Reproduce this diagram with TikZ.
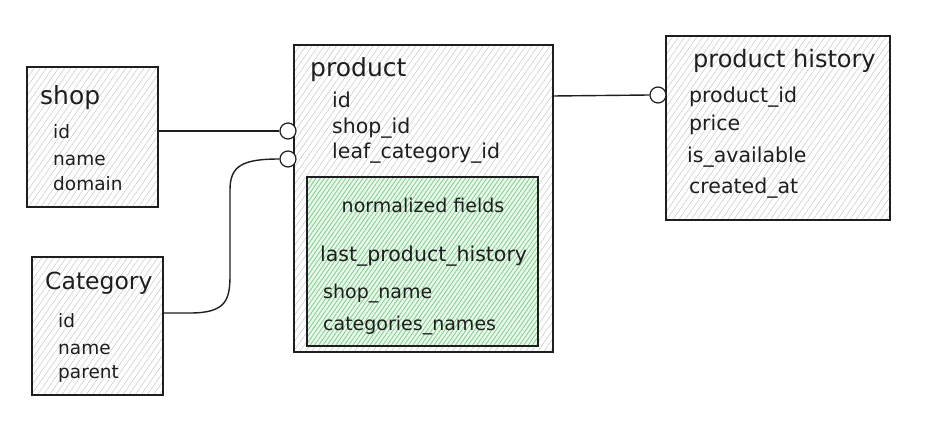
\documentclass[tikz,border=0pt]{standalone}
\usepackage{fontspec}
\setmainfont{DejaVu Sans}
\usetikzlibrary{patterns.meta}
\definecolor{ink}{RGB}{30,30,30}
\definecolor{hatchgray}{RGB}{200,200,200}
\definecolor{greenbg}{RGB}{232,248,234}
\definecolor{greenhatch}{RGB}{130,205,142}
\tikzset{
  table/.style={draw=ink, line width=1.3pt, preaction={fill=white},
    pattern={Lines[angle=55,distance=5pt,line width=0.5pt]}, pattern color=hatchgray,
    inner sep=0pt},
  greenbox/.style={draw=ink, line width=1.3pt, preaction={fill=greenbg},
    pattern={Lines[angle=55,distance=3.5pt,line width=0.8pt]}, pattern color=greenhatch,
    inner sep=0pt},
  ttl/.style={anchor=mid west, inner sep=0pt, text=ink, font=\fontsize{25}{30}\selectfont},
  fld/.style={anchor=mid west, inner sep=0pt, text=ink, font=\fontsize{18.5}{22}\selectfont},
  fldb/.style={fld, font=\fontsize{20.5}{24}\selectfont},
  knob/.style={circle, draw=ink, line width=1.2pt, fill=white, minimum size=16pt, inner sep=0pt},
  link/.style={draw=ink, line width=1.4pt}
}
\begin{document}
\begin{tikzpicture}[x=1pt,y=-1pt]
\useasboundingbox (0,0) rectangle (932,422);
\fill[white] (0,0) rectangle (932,422);

% boxes
\node[table, minimum width=131pt, minimum height=140pt] (shop) at (92.5,137) {};
\node[table, minimum width=259pt, minimum height=307pt] (product) at (423.5,198.5) {};
\node[greenbox, minimum width=231pt, minimum height=169pt] (norm) at (422.5,261.5) {};
\node[table, minimum width=224pt, minimum height=184pt] (hist) at (778,128) {};
\node[table, minimum width=131pt, minimum height=138pt] (cat) at (97.5,326) {};

% shop
\node[ttl] (shopT) at (40,102) {shop};
\node[fld] (shop1) at (53,136) {id};
\node[fld] (shop2) at (53,163) {name};
\node[fld] (shop3) at (53,188) {domain};

% product
\node[ttl] (prodT) at (310,74) {product};
\node[fldb] (prod1) at (332,105) {id};
\node[fldb] (prod2) at (332,131) {shop\_id};
\node[fldb] (prod3) at (332,156) {leaf\_category\_id};

% normalized
\node[fld, anchor=center, font=\fontsize{19}{23}\selectfont] (normT) at (423,205) {normalized fields};
\node[fldb] (norm1) at (320,259) {last\_product\_history};
\node[fld, font=\fontsize{19}{23}\selectfont] (norm2) at (323,296) {shop\_name};
\node[fld, font=\fontsize{19}{23}\selectfont] (norm3) at (323,328) {categories\_names};

% product history
\node[ttl, font=\fontsize{24}{29}\selectfont] (histT) at (693,65) {product history};
\node[fldb] (hist1) at (689,100) {product\_id};
\node[fldb] (hist2) at (689,128) {price};
\node[fldb] (hist3) at (687,160) {is\_available};
\node[fldb] (hist4) at (689,191) {created\_at};

% category
\node[ttl, font=\fontsize{23.5}{28}\selectfont] (catT) at (45,287) {Category};
\node[fld] (cat1) at (58,325) {id};
\node[fld] (cat2) at (58,352) {name};
\node[fld] (cat3) at (58,376) {parent};

% connector endpoints
\node[knob] (k1) at (288,131) {};
\node[knob] (k2) at (288,159) {};
\node[knob] (k3) at (658,95) {};
\coordinate (catout) at (163,313);
\coordinate (prodout) at (553,96);

% connectors
\draw[link] (shop.east |- k1) -- (k1.west);
\draw[link] (catout) -- (190,313) .. controls (226,313) and (230,300) .. (230,275)
  -- (230,190) .. controls (230,166) and (242,159) .. (k2.west);
\draw[link] (prodout) -- (k3.west);
\end{tikzpicture}
\end{document}
